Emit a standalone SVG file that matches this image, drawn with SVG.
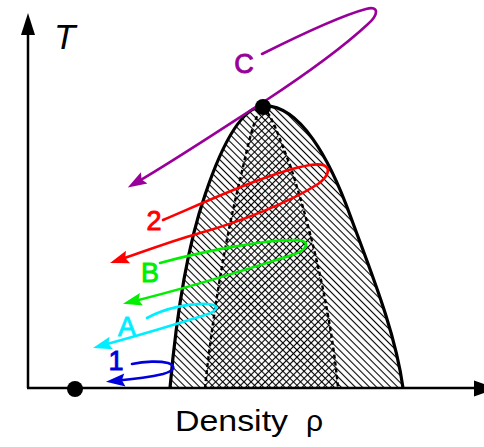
<svg xmlns="http://www.w3.org/2000/svg" width="484" height="447" viewBox="0 0 484 447">
  <defs>
    <pattern id="hatchBack" patternUnits="userSpaceOnUse" width="5" height="5" patternTransform="rotate(-45)">
      <line x1="2.5" y1="-1" x2="2.5" y2="6" stroke="#000" stroke-width="1.1"/>
    </pattern>
    <pattern id="hatchFwd" patternUnits="userSpaceOnUse" width="5" height="5" patternTransform="rotate(45)">
      <line x1="2.5" y1="-1" x2="2.5" y2="6" stroke="#000" stroke-width="1.1"/>
    </pattern>
    <marker id="ah-purple" markerUnits="userSpaceOnUse" orient="auto" overflow="visible" markerWidth="1" markerHeight="1" refX="0" refY="0">
      <path d="M10,0 L-9,-6.5 L-6,0 L-9,6.5 Z" fill="#990099"/>
    </marker>
    <marker id="ah-red" markerUnits="userSpaceOnUse" orient="auto" overflow="visible" markerWidth="1" markerHeight="1" refX="0" refY="0">
      <path d="M10,0 L-9,-6.5 L-6,0 L-9,6.5 Z" fill="#ff0000"/>
    </marker>
    <marker id="ah-green" markerUnits="userSpaceOnUse" orient="auto" overflow="visible" markerWidth="1" markerHeight="1" refX="0" refY="0">
      <path d="M10,0 L-9,-6.5 L-6,0 L-9,6.5 Z" fill="#00ee00"/>
    </marker>
    <marker id="ah-cyan" markerUnits="userSpaceOnUse" orient="auto" overflow="visible" markerWidth="1" markerHeight="1" refX="0" refY="0">
      <path d="M10,0 L-9,-6.5 L-6,0 L-9,6.5 Z" fill="#00eeff"/>
    </marker>
    <marker id="ah-blue" markerUnits="userSpaceOnUse" orient="auto" overflow="visible" markerWidth="1" markerHeight="1" refX="0" refY="0">
      <path d="M10,0 L-9,-6.5 L-6,0 L-9,6.5 Z" fill="#0000dd"/>
    </marker>
  </defs>
  <style>
    .path-line { fill: none; stroke-width: 2.6; stroke-linecap: round; }
    .lbl { font-family: "Liberation Sans", Arial, sans-serif; font-size: 27px; text-anchor: middle; stroke-width: 0.9; }
    .axis { stroke: #000; stroke-width: 2.5; fill: none; }
  </style>
  <rect width="484" height="447" fill="#fff"/>

  <g id="coexistence-region">
    <path d="M170,388 C176,320 186,250 205,195 C220,150 240,108 263,106 C300,104 330,160 350,215 C370,270 395,330 403,388 Z" fill="url(#hatchBack)"/>
    <path d="M205,388 C212,320 225,240 240,180 C248,145 255,112 263,108 C271,112 280,140 290,165 C305,210 330,300 338,388 Z" fill="url(#hatchFwd)"/>
    <path d="M205,388 C212,320 225,240 240,180 C248,145 255,112 263,108 C271,112 280,140 290,165 C305,210 330,300 338,388" fill="none" stroke="#000" stroke-width="2.4" stroke-dasharray="4 3"/>
    <path d="M170,388 C176,320 186,250 205,195 C220,150 240,108 263,106 C300,104 330,160 350,215 C370,270 395,330 403,388" fill="none" stroke="#000" stroke-width="3.2"/>
  </g>

  <g id="axes">
    <line class="axis" x1="28" y1="388" x2="28" y2="32"/>
    <polygon points="28,13 21,35 35,35" fill="#000"/>
    <line class="axis" x1="27" y1="388" x2="476" y2="388"/>
    <polygon points="474,380.5 474,396.5 497,388.5" fill="#000"/>
    <text x="54" y="49" font-family="Liberation Sans, Arial, sans-serif" font-size="35" font-style="italic">T</text>
    <text x="175" y="431" font-family="Liberation Sans, Arial, sans-serif" font-size="29" textLength="113" lengthAdjust="spacingAndGlyphs">Density</text>
    <text x="306" y="431" font-family="Liberation Sans, Arial, sans-serif" font-size="30">ρ</text>
  </g>

  <g id="connectors">
    <path class="path-line" stroke="#990099" marker-end="url(#ah-purple)" d="M262,54 C290,40 340,16 366,9 C380,5 378,15 368,24 C340,50 300,78 265,101 C220,130 175,160 136.4,182.5"/>
    <path class="path-line" stroke="#ff0000" marker-end="url(#ah-red)" d="M163,220 C210,200 270,172 310,165 C335,161 330,176 318,184 C290,202 240,222 200,233 C165,243 140,253 119.5,259.9"/>
    <path class="path-line" stroke="#00ee00" marker-end="url(#ah-green)" d="M160,263 C200,252 260,240 295,240 C312,240 308,250 292,255 C260,265 200,285 132.7,301.4"/>
    <path class="path-line" stroke="#00eeff" marker-end="url(#ah-cyan)" d="M147,318 C165,308 190,303 208,304 C222,305 216,312 205,315 C180,323 140,335 102.6,345.3"/>
    <path class="path-line" stroke="#0000dd" marker-end="url(#ah-blue)" d="M132,364 C145,361 160,361 168,363 C177,366 174,371 163,374 C150,377 135,379 115.9,380.8"/>
  </g>

  <g id="critical-point">
    <circle cx="263" cy="107" r="8" fill="#000"/>
  </g>
  <g id="triple-point">
    <circle cx="75" cy="389" r="8" fill="#000"/>
  </g>

  <g id="labels">
    <text class="lbl" x="244" y="73" fill="#990099" stroke="#990099">C</text>
    <text class="lbl" x="154" y="230" fill="#ff0000" stroke="#ff0000">2</text>
    <text class="lbl" x="150" y="282" fill="#00ee00" stroke="#00ee00">B</text>
    <text class="lbl" x="127" y="336" fill="#00eeff" stroke="#00eeff">A</text>
    <text class="lbl" x="116" y="370" fill="#0000dd" stroke="#0000dd">1</text>
  </g>
</svg>
